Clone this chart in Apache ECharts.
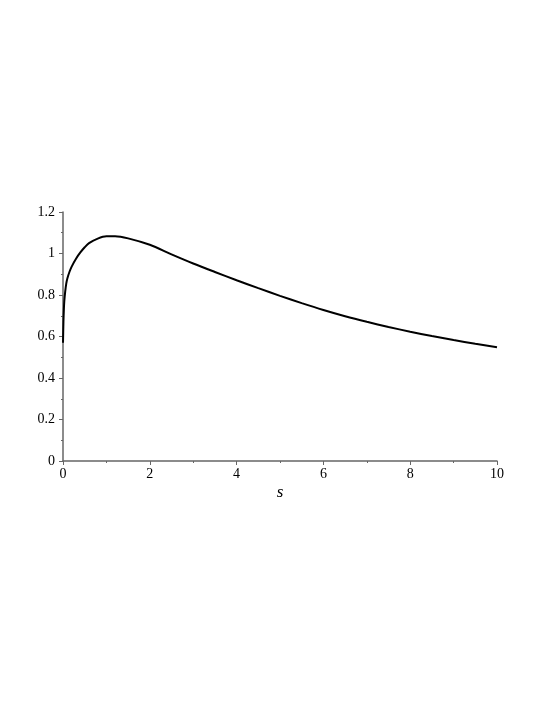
<!DOCTYPE html>
<html>
<head>
<meta charset="utf-8">
<script src="https://cdn.jsdelivr.net/npm/echarts@6/dist/echarts.min.js"></script>
<style>
  html, body { margin: 0; padding: 0; background: #fff; }
  #main { width: 545px; height: 705px; }
</style>
</head>
<body>
<div id="main"></div>
<script>
// values
const sValues = [0, 0.01, 0.02, 0.03, 0.05, 0.075, 0.1, 0.15, 0.2, 0.3, 0.4, 0.5, 0.6, 0.8, 1.0, 1.2, 1.5,
  2.0, 2.5, 3.0, 3.5, 4.0, 4.5, 5.0, 5.5, 6.0, 6.5, 7.0, 7.5, 8.0, 8.5, 9.0, 9.5, 10];
const fValues = [0.57, 0.67, 0.73, 0.77, 0.815, 0.855, 0.88, 0.912, 0.937, 0.975, 1.005, 1.03, 1.05, 1.072, 1.083, 1.083, 1.073,
  1.042, 0.996, 0.952, 0.911, 0.871, 0.833, 0.796, 0.761, 0.728, 0.698, 0.671, 0.646, 0.623, 0.602, 0.583, 0.565, 0.548];

const axisColor = "#666";
const labelFont = "'Liberation Serif', 'DejaVu Serif', serif";

const chart = echarts.init(document.getElementById("main"));
chart.setOption({
  animation: false,
  backgroundColor: "#fff",
  grid: { left: 63, right: 48, top: 212, bottom: 244 },
  xAxis: {
    type: "value",
    min: 0,
    max: 10,
    interval: 2,
    name: "s",
    nameLocation: "middle",
    nameGap: 23,
    nameTextStyle: { fontFamily: labelFont, fontStyle: "italic", fontSize: 17, color: "#000" },
    axisLine: { show: true, lineStyle: { color: axisColor, width: 1.5 } },
    axisTick: { show: true, length: 4, lineStyle: { color: axisColor } },
    minorTick: { show: true, splitNumber: 2, length: 2, lineStyle: { color: axisColor } },
    axisLabel: { margin: 6, fontFamily: labelFont, fontSize: 14, color: "#000" },
    splitLine: { show: false },
  },
  yAxis: {
    type: "value",
    min: 0,
    max: 1.2,
    interval: 0.2,
    axisLine: { show: true, lineStyle: { color: axisColor, width: 1.5 } },
    axisTick: { show: true, length: 4, lineStyle: { color: axisColor } },
    minorTick: { show: true, splitNumber: 2, length: 2, lineStyle: { color: axisColor } },
    axisLabel: { margin: 8, fontFamily: labelFont, fontSize: 14, color: "#000" },
    splitLine: { show: false },
  },
  series: [
    {
      type: "line",
      data: sValues.map((s, i) => [s, fValues[i]]),
      smooth: 0.3,
      showSymbol: false,
      lineStyle: { color: "#000", width: 2 },
    },
  ],
});
</script>
</body>
</html>
